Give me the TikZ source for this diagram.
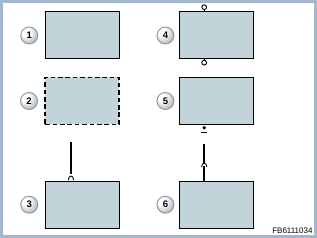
\documentclass[tikz,border=0pt]{standalone}
\usepackage{fontspec}
\setsansfont{Liberation Sans}
\usetikzlibrary{positioning}
\definecolor{framegray}{HTML}{A3B6CD}
\definecolor{partfill}{HTML}{C2D3DA}
\definecolor{bubbleedge}{HTML}{8499AD}
\pgfdeclareradialshading{bubbleshade}{\pgfpoint{-12bp}{12bp}}{color(0bp)=(white); color(12bp)=(white); color(32bp)=(black!30); color(62bp)=(black!55)}

\begin{document}
\begin{tikzpicture}[x=1pt,y=-1pt,font=\sffamily,
    part/.style={draw=black,line width=1pt,fill=partfill,minimum width=74pt,minimum height=47pt,inner sep=0pt},
    num/.style={circle,draw=bubbleedge,line width=.9pt,shade,shading=bubbleshade,minimum size=17pt,inner sep=0pt,
      font=\sffamily\bfseries\fontsize{9.5}{10}\selectfont},
    pinhole/.style={circle,draw=black,fill=white,line width=.9pt,minimum size=4.8pt,inner sep=0pt},
    pindot/.style={circle,fill=black,minimum size=3.8pt,inner sep=0pt},
    lead/.style={line width=2.6pt},
    socket/.style={line width=.9pt}]
  % frame
  \fill[framegray] (0,0) rectangle (317,238);
  \fill[white] (3,3) rectangle (314,235);
  \useasboundingbox (0,0) rectangle (317,238);

  % parts
  \node[part] (box1) at (82.2,35.5) {};
  \node[part,dash pattern=on 4.6pt off 2.8pt,line width=1.4pt] (box2) at (82.2,101) {};
  \node[part] (box3) at (82.2,204.7) {};
  \node[part] (box4) at (216.7,35.5) {};
  \node[part] (box5) at (216.7,101) {};
  \node[part] (box6) at (216.7,204.7) {};

  \foreach \i in {1,...,3}
    \node[num,left=6.5pt of box\i] (n\i) {\i};
  \foreach \i in {4,...,6}
    \node[num,left=4.8pt of box\i] (n\i) {\i};

  % open pins on 4
  \coordinate (pin4t) at ([xshift=-12.5pt]box4.north);
  \coordinate (pin4b) at ([xshift=-12.5pt]box4.south);
  \node[pinhole,anchor=south] (hole4t) at ([yshift=1.5pt]pin4t) {};
  \node[pinhole,anchor=north] (hole4b) at ([yshift=-.3pt]pin4b) {};
  \draw[line width=.9pt] (pin4t) -- (hole4t);
  \draw[line width=.9pt] (pin4b) -- (hole4b);

  % dot and dash under 5
  \coordinate (pin5) at ([xshift=-12.5pt]box5.south);
  \node[pindot] (dot5) at ([yshift=-2.8pt]pin5) {};
  \coordinate (dash5) at ([yshift=-7.8pt]pin5);
  \draw[line width=1.4pt] ([xshift=-3.2pt]dash5) -- ([xshift=3.2pt]dash5);

  % lead into 3
  \coordinate (end3) at ([xshift=-11.2pt]box3.north);
  \coordinate (top3) at ([yshift=38.4pt]end3);
  \coordinate (foot3) at ([yshift=6.5pt]end3);
  \draw[lead] (top3) -- (foot3);
  \draw[socket,shift={(end3)}] (-2.6,-.6) .. controls (-2.6,-6) and (2.6,-6) .. (2.6,-.6);

  % lead into 6
  \coordinate (end6) at ([xshift=-12.5pt]box6.north);
  \coordinate (top6) at ([yshift=37pt]end6);
  \coordinate (mid6) at ([yshift=18pt]end6);
  \coordinate (low6) at ([yshift=14.2pt]end6);
  \draw[lead] (top6) -- (mid6);
  \draw[socket,shift={(mid6)}] (-2.6,4.3) .. controls (-2.6,-.8) and (2.6,-.8) .. (2.6,4.3);
  \draw[lead] (low6) -- (end6);

  \node[anchor=east,inner sep=0pt,font=\sffamily\fontsize{8}{9}\selectfont] (code) at (312.7,230.3) {FB6111034};
\end{tikzpicture}
\end{document}
